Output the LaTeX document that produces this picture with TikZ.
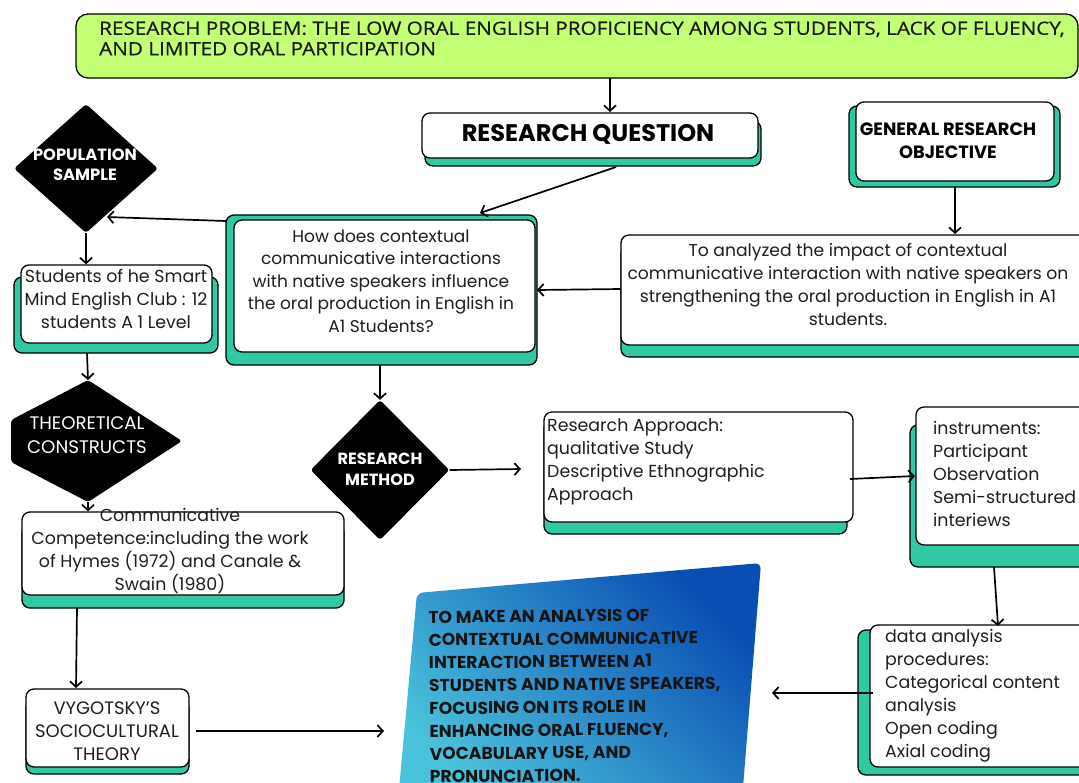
\documentclass[tikz,border=0pt]{standalone}
\usepackage{fontspec}
\setmainfont{Poppins}
\newfontfamily\probfont{Open Sans}[FakeStretch=1.13,FakeBold=0.5]
\usetikzlibrary{arrows.meta,shapes.geometric}
\definecolor{limec}{HTML}{C2FF73}
\definecolor{tealc}{HTML}{30C9A4}
\definecolor{txtc}{HTML}{1E1E1E}
\definecolor{bluedark}{HTML}{0A4DB3}
\definecolor{bluelight}{HTML}{4AC2DB}
\begin{document}
\begin{tikzpicture}[x=1pt,y=-1pt,
  wbox/.style={draw=black, line width=1.3pt, fill=white, rounded corners=8pt, inner sep=0pt},
  shad/.style={draw=black, line width=1.3pt, fill=tealc, rounded corners=8pt},
  arr/.style={line width=1.7pt, -{Straight Barb[length=5.5pt,width=12pt,line width=1.7pt]}},
  body/.style={text=txtc, inner sep=0pt, font=\fontsize{17.4}{23}\selectfont},
  headb/.style={text=black, inner sep=0pt, align=center},
  diamw/.style={text=white, inner sep=0pt, align=center}
]
\clip (0,0) rectangle (1079,782);
\fill[white] (0,0) rectangle (1079,782);

% ---------- research problem ----------
\node[draw=black, line width=1.3pt, fill=limec, rounded corners=12pt, minimum width=1002pt, minimum height=64pt, inner sep=0pt] (prob) at (577,46) {};
\node[text=black!90, inner sep=0pt, anchor=west, align=left, font=\probfont\fontsize{18.3}{20.5}\selectfont] (probT) at (99,38.5)
  {RESEARCH PROBLEM: THE LOW ORAL ENGLISH PROFICIENCY AMONG STUDENTS, LACK OF FLUENCY,\\AND LIMITED ORAL PARTICIPATION};

% ---------- research question heading ----------
\draw[shad] (425,121) rectangle (761,166);
\node[wbox, minimum width=336pt, minimum height=45pt] (rqhead) at (590,135.5) {};
\node[headb, font=\bfseries\fontsize{24}{26}\selectfont] (rqheadT) at (588,134) {RESEARCH QUESTION};

% ---------- general research objective ----------
\draw[shad] (849,106) rectangle (1060,187);
\node[wbox, minimum width=198pt, minimum height=79pt] (gro) at (955,141.5) {};
\node[headb, font=\bfseries\fontsize{17.8}{23}\selectfont] (groT) at (948,140.5) {GENERAL RESEARCH\\OBJECTIVE};

% ---------- population sample ----------
\node[diamond, fill=black, minimum width=144pt, minimum height=129pt, inner sep=0pt, rounded corners=3pt] (pop) at (86,168.5) {};
\node[diamw, font=\bfseries\fontsize{16.3}{20}\selectfont] (popT) at (85,165) {POPULATION\\SAMPLE};

% ---------- students ----------
\draw[shad] (14,277) rectangle (218,353);
\node[wbox, minimum width=191pt, minimum height=78pt] (stud) at (116.5,304) {};
\node[body, align=center] (studT) at (116,298.5) {Students of he Smart\\Mind English Club : 12\\students A 1 Level};

% ---------- research question text ----------
\draw[shad] (226,215) rectangle (537,365);
\node[wbox, minimum width=301pt, minimum height=132pt] (rqtext) at (384.5,286) {};
\node[body, align=center, font=\fontsize{17}{22.5}\selectfont] (rqtextT) at (381,281)
  {How does contextual\\communicative interactions\\with native speakers influence\\the oral production in English in\\A1 Students?};

% ---------- objective ----------
\draw[shad] (621,245) rectangle (1100,357);
\node[wbox, minimum width=479pt, minimum height=110pt] (obj) at (860.5,290) {};
\node[body, align=center, font=\fontsize{17.2}{23}\selectfont] (objT) at (848,284.5)
  {To analyzed the impact of contextual\\communicative interaction with native speakers on\\strengthening the oral production in English in A1\\students.};

% ---------- theoretical constructs ----------
\fill[black, rounded corners=3pt] (88,380) -- (182,441) -- (88,502) -- (11,462) -- (11,420) -- cycle;
\coordinate (theoTop) at (88,380);
\coordinate (theoBot) at (88,502);
\node[diamw, font=\fontsize{18.2}{24}\selectfont] (theoT) at (87,435) {THEORETICAL\\CONSTRUCTS};

% ---------- communicative competence ----------
\draw[shad] (22,525) rectangle (344,608);
\node[wbox, minimum width=322pt, minimum height=83pt] (comm) at (183,553.5) {};
\node[body, align=center, font=\fontsize{17.4}{22.7}\selectfont] (commT) at (170,551)
  {Communicative\\Competence:including the work\\of Hymes (1972) and Canale \&\\Swain (1980)};

% ---------- vygotsky ----------
\draw[shad] (26,700) rectangle (189,774);
\node[wbox, minimum width=163pt, minimum height=78pt] (vyg) at (107.5,728) {};
\node[body, align=center, font=\fontsize{18}{23}\selectfont] (vygT) at (107,731) {VYGOTSKY'S\\SOCIOCULTURAL\\THEORY};

% ---------- research method ----------
\node[diamond, fill=black, minimum width=139pt, minimum height=140pt, inner sep=0pt, rounded corners=3pt] (rm) at (380,470) {};
\node[diamw, font=\bfseries\fontsize{16.2}{21}\selectfont] (rmT) at (380,469.5) {RESEARCH\\METHOD};

% ---------- research approach ----------
\draw[shad] (544,420) rectangle (847,534);
\node[wbox, minimum width=309pt, minimum height=110pt] (ra) at (698.5,467) {};
\node[body, align=left, anchor=west] (raT) at (547,461.5)
  {Research Approach:\\qualitative Study\\Descriptive Ethnographic\\Approach};

% ---------- instruments ----------
\draw[shad] (910,425) rectangle (1100,567);
\node[wbox, minimum width=184pt, minimum height=138pt] (instr) at (1008,476) {};
\node[body, align=left, anchor=west] (instrT) at (933,474)
  {instruments:\\Participant\\Observation\\Semi-structured\\interiews};

% ---------- data analysis ----------
\draw[shad] (858,630) rectangle (1100,775);
\node[wbox, minimum width=230pt, minimum height=142pt] (data) at (985,696) {};
\node[body, align=left, anchor=west] (dataT) at (885,695.5)
  {data analysis\\procedures:\\Categorical content\\analysis\\Open coding\\Axial coding};

% ---------- blue conclusion ----------
\shade[top color=bluedark, bottom color=bluelight, shading angle=-45, rounded corners=6pt]
  (417,593) -- (761,563) -- (742,800) -- (398,800) -- cycle;
\coordinate (blueIn) at (772,693);
\coordinate (blueInL) at (384,731);
\node[text=black!92, inner sep=0pt, align=left, anchor=west, rotate=0.5, font=\bfseries\fontsize{17.2}{22.8}\selectfont] (blueT) at (429,697)
  {TO MAKE AN ANALYSIS OF\\CONTEXTUAL COMMUNICATIVE\\INTERACTION BETWEEN A1\\STUDENTS AND NATIVE SPEAKERS,\\FOCUSING ON ITS ROLE IN\\ENHANCING ORAL FLUENCY,\\VOCABULARY USE, AND\\PRONUNCIATION.};

% ---------- connector end points ----------
\coordinate (c1a) at (610,78);   \coordinate (c1b) at (610,112);
\coordinate (c2a) at (616,167);  \coordinate (c2b) at (480,213);
\coordinate (c3a) at (226,221);  \coordinate (c3b) at (107,217);
\coordinate (c5a) at (955,187);  \coordinate (c5b) at (955,234);
\coordinate (c6a) at (621,289);  \coordinate (c6b) at (537,290);
\coordinate (c7a) at (87,353);
\coordinate (c8a) at (380,365);
\coordinate (c10b) at (521,469);
\coordinate (c11a) at (850,479); \coordinate (c11b) at (915,476);
\coordinate (c12a) at (994,567); \coordinate (c12b) at (998,626);
\coordinate (c13a) at (873,693);
\coordinate (c14a) at (77,608);  \coordinate (c14b) at (76,688);
\coordinate (c15a) at (196,731);

% ---------- connectors ----------
\draw[arr] (c1a) -- (c1b);
\draw[arr] (c2a) -- (c2b);
\draw[arr] (c3a) -- (c3b);
\draw[arr] (pop.south) -- (pop.south |- stud.north);
\draw[arr] (c5a) -- (c5b);
\draw[arr] (c6a) -- (c6b);
\draw[arr] (c7a) -- (theoTop);
\draw[arr] (c8a) -- (rm.north);
\draw[arr] (theoBot) -- (theoBot |- comm.north);
\draw[arr] (rm.east) -- (c10b);
\draw[arr] (c11a) -- (c11b);
\draw[arr] (c12a) -- (c12b);
\draw[arr] (c13a) -- (blueIn);
\draw[arr] (c14a) -- (c14b);
\draw[arr] (c15a) -- (blueInL);
\end{tikzpicture}
\end{document}
